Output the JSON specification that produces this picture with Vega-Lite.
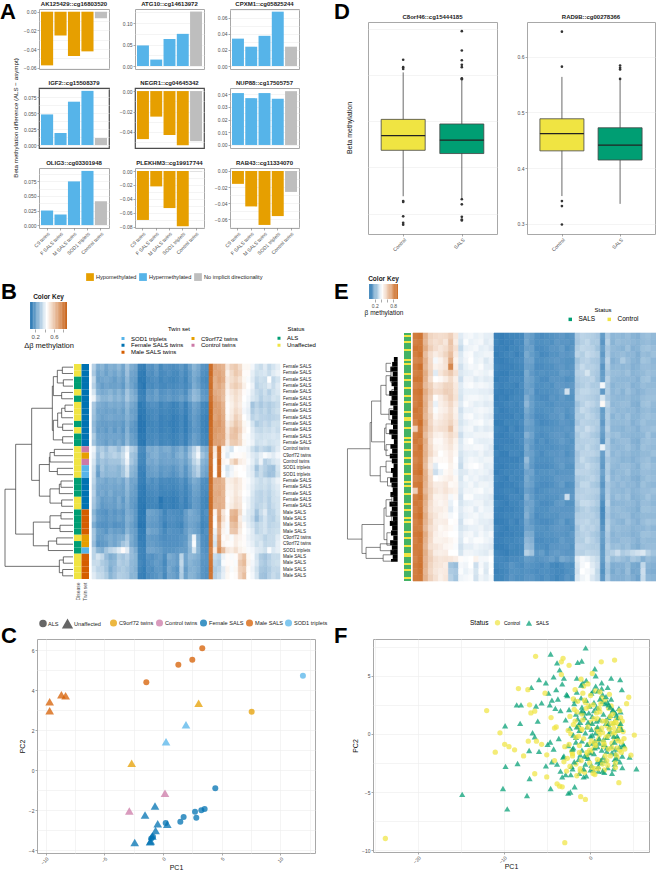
{"$schema":"https://vega.github.io/schema/vega-lite/v6.json","padding":0,"background":"white","data":{"values":[]},"bounds":"flush","spacing":0,"resolve":{"scale":{"color":"independent","shape":"independent","size":"independent","stroke":"independent"}},
"config":{"font":"Liberation Sans","view":{"stroke":null},"title":{"fontSize":6,"fontWeight":"bold","offset":2,"color":"#222"},"axis":{"labelFontSize":5,"labelColor":"#4d4d4d","titleFontSize":7,"titleFontWeight":"normal","titleColor":"#111","tickSize":2,"tickColor":"#555","tickWidth":0.5,"domain":false,"gridColor":"#ececec","gridWidth":0.6,"labelPadding":1},"legend":{"titleFontWeight":"normal"}},
"datasets":{"a":[
{"p":"AK","g":"C9 twins","v":-0.0575,"d":"Hypomethylated"},{"p":"AK","g":"F SALS twins","v":-0.0255,"d":"Hypomethylated"},{"p":"AK","g":"M SALS twins","v":-0.0475,"d":"Hypomethylated"},{"p":"AK","g":"SOD1 triplets","v":-0.0425,"d":"Hypomethylated"},{"p":"AK","g":"Control twins","v":-0.007,"d":"No implicit directionality"},
{"p":"ATG","g":"C9 twins","v":0.048,"d":"Hypermethylated"},{"p":"ATG","g":"F SALS twins","v":0.015,"d":"Hypermethylated"},{"p":"ATG","g":"M SALS twins","v":0.063,"d":"Hypermethylated"},{"p":"ATG","g":"SOD1 triplets","v":0.075,"d":"Hypermethylated"},{"p":"ATG","g":"Control twins","v":0.127,"d":"No implicit directionality"},
{"p":"CPX","g":"C9 twins","v":0.034,"d":"Hypermethylated"},{"p":"CPX","g":"F SALS twins","v":0.024,"d":"Hypermethylated"},{"p":"CPX","g":"M SALS twins","v":0.0375,"d":"Hypermethylated"},{"p":"CPX","g":"SOD1 triplets","v":0.0675,"d":"Hypermethylated"},{"p":"CPX","g":"Control twins","v":0.024,"d":"No implicit directionality"},
{"p":"IGF","g":"C9 twins","v":0.048,"d":"Hypermethylated"},{"p":"IGF","g":"F SALS twins","v":0.019,"d":"Hypermethylated"},{"p":"IGF","g":"M SALS twins","v":0.068,"d":"Hypermethylated"},{"p":"IGF","g":"SOD1 triplets","v":0.085,"d":"Hypermethylated"},{"p":"IGF","g":"Control twins","v":0.011,"d":"No implicit directionality"},
{"p":"NEG","g":"C9 twins","v":-0.047,"d":"Hypomethylated"},{"p":"NEG","g":"F SALS twins","v":-0.025,"d":"Hypomethylated"},{"p":"NEG","g":"M SALS twins","v":-0.043,"d":"Hypomethylated"},{"p":"NEG","g":"SOD1 triplets","v":-0.053,"d":"Hypomethylated"},{"p":"NEG","g":"Control twins","v":-0.049,"d":"No implicit directionality"},
{"p":"NUP","g":"C9 twins","v":0.041,"d":"Hypermethylated"},{"p":"NUP","g":"F SALS twins","v":0.037,"d":"Hypermethylated"},{"p":"NUP","g":"M SALS twins","v":0.041,"d":"Hypermethylated"},{"p":"NUP","g":"SOD1 triplets","v":0.0365,"d":"Hypermethylated"},{"p":"NUP","g":"Control twins","v":0.0425,"d":"No implicit directionality"},
{"p":"OLI","g":"C9 twins","v":0.025,"d":"Hypermethylated"},{"p":"OLI","g":"F SALS twins","v":0.018,"d":"Hypermethylated"},{"p":"OLI","g":"M SALS twins","v":0.075,"d":"Hypermethylated"},{"p":"OLI","g":"SOD1 triplets","v":0.093,"d":"Hypermethylated"},{"p":"OLI","g":"Control twins","v":0.041,"d":"No implicit directionality"},
{"p":"PLE","g":"C9 twins","v":-0.07,"d":"Hypomethylated"},{"p":"PLE","g":"F SALS twins","v":-0.022,"d":"Hypomethylated"},{"p":"PLE","g":"M SALS twins","v":-0.053,"d":"Hypomethylated"},{"p":"PLE","g":"SOD1 triplets","v":-0.079,"d":"Hypomethylated"},{"p":"PLE","g":"Control twins","v":-0.0005,"d":"No implicit directionality"},
{"p":"RAB","g":"C9 twins","v":-0.016,"d":"Hypomethylated"},{"p":"RAB","g":"F SALS twins","v":-0.044,"d":"Hypomethylated"},{"p":"RAB","g":"M SALS twins","v":-0.067,"d":"Hypomethylated"},{"p":"RAB","g":"SOD1 triplets","v":-0.056,"d":"Hypomethylated"},{"p":"RAB","g":"Control twins","v":-0.026,"d":"No implicit directionality"}],
"b":[
{"r":0,"l":"Female SALS","d":"Unaffected","t":"Female SALS twins","v":[33,24,26,22,25,24,27,22,30,24,22,13,12,18,17,20,15,18,17,16,17,19,16,21,26,23,18,17,85,70,68,66,52,58,60,55,47,47,43,38,36,40,35,38,41]},
{"r":1,"l":"Female SALS","d":"Unaffected","t":"Female SALS twins","v":[31,22,24,21,24,22,25,21,29,22,21,12,11,17,16,19,15,16,17,15,15,18,15,19,24,22,17,16,86,69,70,67,49,55,60,57,46,46,41,37,38,39,36,40,42]},
{"r":2,"l":"Female SALS","d":"ALS","t":"Female SALS twins","v":[35,21,22,23,22,20,23,20,27,21,20,11,11,15,16,17,14,16,15,14,15,17,14,19,23,20,16,15,84,67,71,68,51,54,57,53,47,44,40,35,37,36,45,35,38]},
{"r":3,"l":"Female SALS","d":"ALS","t":"Female SALS twins","v":[33,23,20,22,21,21,22,19,26,22,19,12,10,16,15,17,15,15,16,15,16,17,15,18,24,21,17,16,85,66,69,65,50,56,59,56,49,45,42,34,36,37,40,36,40]},
{"r":4,"l":"Female SALS","d":"Unaffected","t":"Female SALS twins","v":[38,25,23,24,26,23,26,22,30,25,22,13,12,19,18,21,17,18,19,17,18,19,16,22,27,25,19,18,83,68,67,64,48,52,55,52,46,44,40,36,34,37,33,37,39]},
{"r":5,"l":"Female SALS","d":"ALS","t":"Female SALS twins","v":[42,30,26,26,28,25,27,24,31,26,24,14,13,20,19,21,18,19,20,18,19,21,18,23,28,26,20,19,84,70,68,63,47,50,54,51,45,43,39,37,33,36,35,38,37]},
{"r":6,"l":"Female SALS","d":"Unaffected","t":"Female SALS twins","v":[31,24,23,22,24,23,24,22,27,23,21,11,12,16,17,17,14,16,15,13,14,17,13,18,22,20,15,14,86,72,71,66,46,49,53,50,44,42,30,34,31,34,32,34,36]},
{"r":7,"l":"Female SALS","d":"Unaffected","t":"Female SALS twins","v":[30,22,22,21,22,21,23,20,26,21,20,11,11,15,15,16,14,15,14,13,14,16,13,17,21,19,15,14,87,71,72,67,46,50,55,52,43,41,32,35,33,35,32,35,37]},
{"r":8,"l":"Female SALS","d":"Unaffected","t":"Female SALS twins","v":[29,23,21,22,23,22,22,21,25,22,20,10,11,14,15,16,13,14,14,12,13,15,12,17,20,18,14,13,87,70,73,68,47,51,58,54,45,42,34,36,34,34,33,34,35]},
{"r":9,"l":"Female SALS","d":"ALS","t":"Female SALS twins","v":[27,21,20,20,21,20,21,19,24,20,18,10,10,14,14,15,13,14,13,12,13,15,12,16,20,18,14,13,86,72,74,69,50,54,60,56,47,44,38,32,34,36,34,37,37]},
{"r":10,"l":"Female SALS","d":"Unaffected","t":"Female SALS twins","v":[28,20,21,19,22,19,22,18,25,19,18,10,10,15,14,15,13,14,14,12,13,15,12,16,19,18,14,13,85,73,72,70,52,60,63,58,48,45,40,36,35,37,36,38,36]},
{"r":11,"l":"Female SALS","d":"ALS","t":"Female SALS twins","v":[32,22,22,21,22,22,22,20,26,21,19,11,11,15,15,16,14,15,14,13,14,16,13,17,21,19,15,14,85,72,70,70,53,61,62,55,46,44,41,38,37,38,38,39,38]},
{"r":12,"l":"Female SALS","d":"ALS","t":"Female SALS twins","v":[30,23,22,20,23,21,24,20,27,21,20,11,10,16,15,17,14,15,15,13,14,16,13,18,21,19,15,14,86,71,71,68,51,59,60,56,47,44,42,37,38,39,37,38,39]},
{"r":13,"l":"Control twins","d":"Unaffected","t":"Control twins","v":[42,30,32,28,33,32,28,34,41,33,30,16,15,24,23,25,22,24,24,20,22,25,20,27,34,40,26,24,83,52,84,47,42,38,45,44,44,42,37,33,36,34,32,36,40]},
{"r":14,"l":"C9orf72 twins","d":"Unaffected","t":"C9orf72 twins","v":[40,28,34,30,32,34,32,36,44,30,28,15,14,22,24,25,22,22,23,20,24,26,22,29,36,43,30,26,85,50,83,46,40,44,46,46,47,43,40,38,41,44,42,40,43]},
{"r":15,"l":"Control twins","d":"Unaffected","t":"Control twins","v":[38,27,30,28,30,30,30,34,42,31,27,15,14,23,22,24,21,22,22,21,22,24,21,26,34,38,26,24,84,44,86,48,46,54,60,50,48,44,41,36,42,33,35,38,40]},
{"r":16,"l":"SOD1 triplets","d":"Unaffected","t":"SOD1 triplets","v":[36,22,30,26,28,28,26,30,38,27,25,13,13,20,21,22,19,20,20,18,20,23,18,24,30,34,24,22,86,46,84,44,38,42,46,45,46,42,39,30,36,33,30,29,38]},
{"r":17,"l":"SOD1 triplets","d":"Unaffected","t":"SOD1 triplets","v":[35,20,28,26,27,27,26,30,37,26,24,13,12,20,20,21,18,20,19,17,19,22,18,23,29,33,23,21,86,45,85,45,40,43,47,45,45,42,40,33,36,32,29,30,37]},
{"r":18,"l":"Female SALS","d":"ALS","t":"Female SALS twins","v":[34,24,24,22,24,23,25,22,28,22,22,13,12,18,16,18,15,16,15,15,16,18,15,20,24,22,17,16,85,68,68,65,49,50,53,50,46,44,41,38,36,38,36,39,42]},
{"r":19,"l":"Female SALS","d":"ALS","t":"Female SALS twins","v":[32,23,22,22,23,22,23,21,27,22,20,12,11,16,16,17,14,15,15,14,15,17,14,18,22,21,16,16,84,67,68,66,48,49,52,50,46,43,40,37,36,37,35,38,40]},
{"r":20,"l":"Female SALS","d":"ALS","t":"Female SALS twins","v":[33,22,23,21,24,21,22,21,26,21,20,12,11,15,15,16,14,14,14,13,14,16,14,17,21,20,16,15,84,68,69,65,47,48,52,49,45,44,39,35,34,36,34,37,39]},
{"r":21,"l":"Female SALS","d":"Unaffected","t":"Female SALS twins","v":[31,24,20,21,22,20,24,19,25,20,19,11,11,14,14,15,10,13,13,12,13,16,13,17,20,19,15,14,85,68,67,66,46,49,53,51,44,42,38,35,34,36,33,37,38]},
{"r":22,"l":"Female SALS","d":"Unaffected","t":"Female SALS twins","v":[30,23,19,20,21,20,23,20,24,20,18,11,10,14,14,14,11,13,13,12,13,15,13,16,20,19,15,14,85,67,68,66,47,50,54,52,45,42,38,34,35,37,33,36,38]},
{"r":23,"l":"Male SALS","d":"ALS","t":"Male SALS twins","v":[26,19,18,17,20,18,20,18,24,22,19,11,10,22,21,20,18,14,17,16,16,15,20,24,22,20,15,17,85,48,70,52,45,64,66,55,44,40,38,30,36,40,33,34,38]},
{"r":24,"l":"Male SALS","d":"ALS","t":"Male SALS twins","v":[28,20,19,18,20,19,21,19,25,23,19,11,11,21,20,20,17,15,17,17,16,16,20,23,22,21,15,16,84,44,72,54,46,66,68,50,42,40,36,28,34,38,34,33,37]},
{"r":25,"l":"Male SALS","d":"ALS","t":"Male SALS twins","v":[24,18,17,17,19,17,18,18,24,21,18,10,10,20,19,19,17,13,16,16,15,14,19,22,21,19,14,15,84,45,68,50,44,62,64,52,46,41,38,34,36,38,34,35,36]},
{"r":26,"l":"Male SALS","d":"ALS","t":"Male SALS twins","v":[30,21,20,18,22,20,21,19,26,22,20,12,11,23,21,21,18,15,18,17,17,16,20,24,22,20,15,17,83,42,66,48,44,60,61,50,45,43,40,34,36,38,35,36,37]},
{"r":27,"l":"C9orf72 twins","d":"Unaffected","t":"C9orf72 twins","v":[30,20,20,22,24,22,24,24,31,24,20,12,12,20,19,19,17,16,17,17,17,18,19,26,42,24,17,16,82,40,70,46,48,44,50,48,46,42,40,38,37,34,36,36,40]},
{"r":28,"l":"C9orf72 twins","d":"ALS","t":"C9orf72 twins","v":[28,18,19,20,24,22,25,30,33,23,20,13,12,20,20,19,18,17,17,17,17,18,20,27,44,25,17,16,83,38,72,48,46,46,50,47,46,43,41,37,39,35,36,36,41]},
{"r":29,"l":"SOD1 triplets","d":"ALS","t":"SOD1 triplets","v":[34,26,24,30,34,36,40,46,40,28,24,14,13,22,22,21,20,18,18,18,19,20,20,26,38,26,18,17,80,50,76,64,52,50,54,49,47,44,43,40,39,37,44,39,41]},
{"r":30,"l":"Male SALS","d":"Unaffected","t":"Male SALS twins","v":[34,38,35,28,24,26,32,30,33,28,26,14,13,18,17,19,20,16,24,22,20,34,22,27,26,24,19,18,82,36,34,42,46,44,46,56,62,47,44,38,32,30,33,36,36]},
{"r":31,"l":"Male SALS","d":"Unaffected","t":"Male SALS twins","v":[36,36,32,30,26,27,33,31,32,27,26,15,13,17,18,20,19,15,22,22,20,35,22,26,24,23,18,18,83,34,32,44,46,46,44,60,64,48,43,39,33,31,34,36,37]},
{"r":32,"l":"Male SALS","d":"Unaffected","t":"Male SALS twins","v":[38,34,34,30,24,28,31,32,30,27,25,14,12,17,16,19,19,16,23,20,18,33,20,25,25,23,18,17,84,32,34,40,48,44,47,58,60,46,42,37,31,30,32,35,35]},
{"r":33,"l":"Male SALS","d":"Unaffected","t":"Male SALS twins","v":[40,36,35,32,26,29,33,32,31,26,26,13,12,16,17,18,20,15,22,21,19,32,21,26,25,22,18,17,83,33,36,41,47,45,46,57,63,45,43,38,30,29,33,36,34]}],
"c":[{"x":3.35,"y":6.1,"s":"ALS","t":"Male SALS"},{"x":2.5,"y":5.52,"s":"ALS","t":"Male SALS"},{"x":1.31,"y":5.27,"s":"ALS","t":"Male SALS"},{"x":-1.42,"y":4.4,"s":"ALS","t":"Male SALS"},{"x":11.93,"y":4.73,"s":"ALS","t":"SOD1 triplets"},{"x":7.56,"y":2.92,"s":"ALS","t":"C9orf72 twins"},{"x":-8.66,"y":3.77,"s":"Unaffected","t":"Male SALS"},{"x":-8.3,"y":3.73,"s":"Unaffected","t":"Male SALS"},{"x":-9.66,"y":3.42,"s":"Unaffected","t":"Male SALS"},{"x":-9.66,"y":2.98,"s":"Unaffected","t":"Male SALS"},{"x":3.04,"y":3.35,"s":"Unaffected","t":"C9orf72 twins"},{"x":-2.67,"y":0.35,"s":"Unaffected","t":"C9orf72 twins"},{"x":1.96,"y":2.28,"s":"Unaffected","t":"SOD1 triplets"},{"x":0.26,"y":1.43,"s":"Unaffected","t":"SOD1 triplets"},{"x":0.17,"y":-1.15,"s":"Unaffected","t":"Control twins"},{"x":-2.87,"y":-2.03,"s":"Unaffected","t":"Control twins"},{"x":-0.68,"y":-1.78,"s":"Unaffected","t":"Female SALS"},{"x":-1.53,"y":-2.23,"s":"Unaffected","t":"Female SALS"},{"x":-0.45,"y":-2.67,"s":"Unaffected","t":"Female SALS"},{"x":0.37,"y":-2.7,"s":"Unaffected","t":"Female SALS"},{"x":-0.63,"y":-3.0,"s":"Unaffected","t":"Female SALS"},{"x":-2.41,"y":-3.6,"s":"Unaffected","t":"Female SALS"},{"x":-0.91,"y":-3.28,"s":"Unaffected","t":"Female SALS"},{"x":-1.05,"y":-3.53,"s":"Unaffected","t":"Female SALS"},{"x":-1.1,"y":-3.57,"s":"Unaffected","t":"Female SALS"},{"x":4.46,"y":-0.9,"s":"ALS","t":"Female SALS"},{"x":3.55,"y":-1.93,"s":"ALS","t":"Female SALS"},{"x":3.27,"y":-2.0,"s":"ALS","t":"Female SALS"},{"x":2.73,"y":-2.07,"s":"ALS","t":"Female SALS"},{"x":2.84,"y":-2.37,"s":"ALS","t":"Female SALS"},{"x":1.76,"y":-2.33,"s":"ALS","t":"Female SALS"},{"x":1.48,"y":-2.57,"s":"ALS","t":"Female SALS"},{"x":0.23,"y":-2.63,"s":"ALS","t":"Female SALS"},{"x":-0.85,"y":-3.32,"s":"ALS","t":"Female SALS"},{"x":-1.0,"y":-3.4,"s":"ALS","t":"Female SALS"}],
"dendB":[{"m":1,"x":[219,187,187,219],"y":[0,0,1,1]},{"m":2,"x":[219,190,190,219],"y":[2,2,3,3]},{"m":3,"x":[187,172,172,190],"y":[0.5,0.5,2.5,2.5]},{"m":4,"x":[219,185,185,219],"y":[4,4,5,5]},{"m":5,"x":[172,160,160,185],"y":[1.5,1.5,4.5,4.5]},{"m":6,"x":[219,195,195,219],"y":[6,6,7,7]},{"m":7,"x":[195,185,185,219],"y":[6.5,6.5,8,8]},{"m":8,"x":[219,188,188,219],"y":[9,9,10,10]},{"m":9,"x":[185,173,173,188],"y":[7.25,7.25,9.5,9.5]},{"m":10,"x":[219,188,188,219],"y":[11,11,12,12]},{"m":11,"x":[173,160,160,188],"y":[8.4,8.4,11.5,11.5]},{"m":12,"x":[160,157,157,160],"y":[3,3,10,10]},{"m":13,"x":[219,163,163,219],"y":[13,13,14,14]},{"m":14,"x":[163,150,150,219],"y":[13.5,13.5,15,15]},{"m":15,"x":[219,172,172,219],"y":[16,16,17,17]},{"m":16,"x":[150,148,148,172],"y":[14.25,14.25,16.5,16.5]},{"m":17,"x":[219,183,183,219],"y":[18,18,19,19]},{"m":18,"x":[183,178,178,219],"y":[18.5,18.5,20,20]},{"m":19,"x":[219,185,185,219],"y":[21,21,22,22]},{"m":20,"x":[178,150,150,185],"y":[19.25,19.25,21.5,21.5]},{"m":21,"x":[148,118,118,150],"y":[15.4,15.4,20.4,20.4]},{"m":22,"x":[157,95,95,118],"y":[6.5,6.5,17.9,17.9]},{"m":23,"x":[219,183,183,219],"y":[23,23,24,24]},{"m":24,"x":[219,180,180,219],"y":[25,25,26,26]},{"m":25,"x":[183,150,150,180],"y":[23.5,23.5,25.5,25.5]},{"m":26,"x":[219,170,170,219],"y":[27,27,28,28]},{"m":27,"x":[170,145,145,219],"y":[27.5,27.5,29,29]},{"m":28,"x":[150,100,100,145],"y":[24.5,24.5,28.25,28.25]},{"m":29,"x":[95,47,47,100],"y":[12.2,12.2,26.4,26.4]},{"m":30,"x":[219,190,190,219],"y":[30,30,31,31]},{"m":31,"x":[219,188,188,219],"y":[32,32,33,33]},{"m":32,"x":[190,178,178,188],"y":[30.5,30.5,32.5,32.5]},{"m":33,"x":[47,15,15,178],"y":[19.3,19.3,31.5,31.5]}],
"dendE":[{"m":1,"x":[150,72,72,122],"y":[520,520,848,848]},{"m":2,"x":[155,150,150,185],"y":[425,425,618,618]},{"m":3,"x":[187,155,155,200],"y":[347,347,495,495]},{"m":4,"x":[205,187,187,215],"y":[290,290,395,395]},{"m":5,"x":[205,200,200,212],"y":[445,445,525,525]},{"m":6,"x":[205,185,185,210],"y":[585,585,640,640]},{"m":7,"x":[198,122,122,136],"y":[795,795,900,900]},{"m":8,"x":[185,136,136,195],"y":[878,878,918,918]},{"m":9,"x":[205,198,198,208],"y":[735,735,850,850]},{"m":10,"x":[222,205,205,225],"y":[255,255,325,325]},{"m":11,"x":[232,222,222,232],"y":[225,225,280,280]},{"m":12,"x":[232,225,225,235],"y":[305,305,345,345]},{"m":13,"x":[228,215,215,230],"y":[375,375,415,415]},{"m":14,"x":[232,205,205,230],"y":[430,430,465,465]},{"m":15,"x":[232,205,205,230],"y":[505,505,545,545]},{"m":16,"x":[226,205,205,230],"y":[565,565,605,605]},{"m":17,"x":[226,210,210,232],"y":[625,625,655,655]},{"m":18,"x":[225,205,205,232],"y":[705,705,765,765]},{"m":19,"x":[225,208,208,230],"y":[825,825,870,870]},{"m":20,"x":[230,185,185,232],"y":[865,865,890,890]},{"m":21,"x":[228,195,195,232],"y":[905,905,928,928]},{"m":22,"x":[232,225,225,236],"y":[690,690,720,720]},{"m":23,"x":[232,225,225,236],"y":[745,745,785,785]},{"m":24,"x":[222,205,205,228],"y":[210,210,240,240]}],
"e":[
{"r":1,"v":[88,90,70,58,56,55,56,60,52,38,41,42,40,41,39,39,6,5,6,7,7,8,16,14,10,9,10,11,12,13,11,12,28,31,30,29,27,14,28,22,23,22,24,21,20,24,25,23]},
{"r":2,"v":[86,88,68,57,54,56,52,64,50,36,43,40,41,42,38,40,7,5,6,6,8,8,17,13,10,10,11,10,13,12,12,11,27,30,32,28,28,12,30,21,24,23,23,22,21,23,24,22]},
{"r":3,"v":[90,89,72,60,55,52,55,62,54,33,40,41,42,39,40,38,6,6,5,7,7,9,15,15,9,9,10,12,12,14,10,12,29,32,31,30,26,15,27,23,22,21,25,20,21,25,26,24]},
{"r":4,"v":[87,91,66,55,50,53,58,66,51,37,42,43,39,40,41,41,5,6,7,8,6,8,18,14,11,8,9,11,11,13,12,13,31,29,33,31,29,13,28,22,23,24,22,22,19,24,23,25]},
{"r":5,"v":[84,86,70,56,42,48,54,72,48,38,41,44,40,41,37,40,6,5,6,7,8,9,16,16,10,10,11,12,13,12,11,11,26,30,31,28,27,16,31,20,22,28,24,21,20,26,25,22]},
{"r":6,"v":[88,92,68,57,48,50,53,84,50,35,40,42,41,43,39,39,7,6,6,6,7,8,15,14,9,9,10,10,12,13,11,12,28,33,30,30,28,12,29,22,23,22,23,20,21,24,24,23]},
{"r":7,"v":[86,88,72,58,38,52,57,62,54,37,39,40,42,41,40,42,6,5,5,7,7,7,18,13,10,11,10,11,11,14,13,12,30,31,36,29,27,14,27,24,24,23,25,21,22,23,25,24]},
{"r":8,"v":[90,90,70,55,44,46,50,56,49,34,41,41,38,40,38,39,5,6,6,8,8,8,17,15,11,9,9,12,12,12,10,11,28,30,30,31,26,15,30,23,22,22,22,22,20,25,26,22]},
{"r":9,"v":[85,87,67,60,52,54,58,58,51,38,42,43,41,42,41,40,7,6,7,7,6,9,16,14,10,10,11,10,13,13,12,13,27,29,31,28,28,42,28,21,23,23,24,20,21,24,23,23]},
{"r":10,"v":[89,91,72,62,55,56,60,59,52,37,40,40,40,39,39,38,6,5,6,6,7,8,15,16,9,10,10,11,12,14,35,12,29,32,32,30,29,13,29,22,24,21,25,22,20,22,24,24]},
{"r":11,"v":[87,89,69,59,45,50,55,60,53,36,41,42,42,41,40,41,5,6,5,7,8,8,19,14,10,9,9,12,11,13,11,11,30,31,30,29,27,36,27,23,22,22,23,21,21,24,25,25]},
{"r":12,"v":[86,90,71,56,40,49,52,57,50,38,43,41,39,40,38,39,6,6,7,8,7,9,22,15,11,11,10,10,12,12,12,12,26,30,33,31,28,46,31,22,23,24,24,20,19,25,26,23]},
{"r":13,"v":[90,88,70,55,43,48,50,55,48,35,40,40,41,42,41,40,7,5,6,7,7,8,18,14,10,10,11,11,13,13,11,13,28,33,31,28,26,14,28,24,22,23,22,22,20,23,24,22]},
{"r":14,"v":[88,89,68,58,47,50,53,56,49,37,42,43,40,41,39,38,6,6,6,6,8,7,16,13,9,9,10,12,12,14,10,12,29,29,32,30,27,15,29,21,24,22,25,21,21,24,25,24]},
{"r":15,"v":[85,92,72,57,50,52,54,58,51,36,39,41,42,43,40,41,5,5,7,7,7,9,17,15,10,8,9,10,11,13,12,11,27,31,30,29,29,13,28,23,23,23,24,20,22,25,23,23]},
{"r":16,"v":[60,88,70,59,52,54,55,64,50,38,41,42,38,40,38,39,7,6,5,8,6,8,15,14,11,10,11,11,12,12,13,12,31,30,34,31,28,16,30,22,22,21,23,22,20,24,24,25]},
{"r":17,"v":[87,90,66,56,49,48,52,56,52,34,40,40,41,41,41,42,6,5,6,7,8,8,20,16,10,9,10,12,13,13,11,13,28,32,31,28,26,14,27,24,25,22,22,21,21,22,26,22]},
{"r":18,"v":[89,87,71,54,46,46,50,54,48,37,42,44,40,39,39,40,6,6,6,6,7,9,16,14,9,11,9,11,12,14,12,11,29,30,30,30,28,12,29,21,23,24,24,20,19,24,25,24]},
{"r":19,"v":[86,91,69,56,48,47,49,52,47,38,41,41,42,42,40,38,5,6,7,7,7,8,18,13,10,10,10,10,11,12,11,12,30,29,32,29,27,40,28,23,22,23,25,22,20,25,24,23]},
{"r":20,"v":[88,89,70,57,50,44,47,50,46,36,39,40,39,41,38,39,7,5,5,8,8,7,17,15,11,9,11,12,12,13,10,12,27,31,31,31,29,15,30,22,24,22,23,21,21,23,23,25]},
{"r":21,"v":[84,88,68,52,46,46,46,50,44,35,40,42,41,40,41,41,6,6,6,6,6,8,24,14,10,10,10,11,13,13,12,13,28,33,30,28,26,14,27,24,23,21,22,20,22,24,25,22]},
{"r":22,"v":[87,90,66,50,38,44,44,48,45,33,41,43,44,42,39,40,6,5,6,7,7,9,20,13,9,9,9,10,12,14,11,11,29,30,33,30,28,13,29,23,22,24,24,22,20,25,26,24]},
{"r":23,"v":[89,92,70,53,34,40,46,48,42,37,38,41,40,41,40,38,5,6,7,7,8,8,16,16,10,11,11,12,11,12,12,12,31,31,31,29,27,16,28,21,23,23,25,21,21,24,24,23]},
{"r":24,"v":[85,87,71,55,44,46,48,50,46,36,42,40,41,39,38,39,7,6,5,8,7,8,18,14,11,10,10,11,13,13,13,13,28,29,30,31,28,14,30,22,24,22,23,20,19,23,25,24]},
{"r":25,"v":[88,90,69,56,50,50,52,46,47,38,40,42,39,41,41,40,6,5,6,6,7,9,17,15,10,9,9,10,12,14,10,11,27,32,32,28,26,12,27,24,22,24,22,22,20,25,23,22]},
{"r":26,"v":[60,89,67,58,52,50,53,50,48,37,41,41,42,43,40,41,6,6,7,7,6,8,15,13,9,10,11,12,12,12,12,12,29,30,31,30,29,15,28,23,23,22,24,21,22,24,24,25]},
{"r":27,"v":[87,91,72,57,48,48,50,42,46,35,43,43,40,40,39,38,5,5,6,8,8,7,19,14,10,11,10,11,11,13,34,13,30,31,30,29,27,13,29,22,25,23,25,20,21,23,26,23]},
{"r":28,"v":[89,88,70,55,49,47,49,40,44,36,39,40,41,41,38,39,7,6,5,7,7,9,16,16,11,9,9,10,13,14,11,11,28,33,33,31,28,10,31,21,22,22,23,22,20,24,24,22]},
{"r":29,"v":[86,90,68,54,50,50,48,38,43,38,41,42,38,42,40,40,6,5,6,6,7,8,18,15,10,10,10,12,12,12,12,12,26,29,31,28,26,8,28,23,24,23,22,21,19,25,25,24]},
{"r":30,"v":[88,92,71,56,52,48,47,42,44,37,40,41,42,40,41,41,6,6,7,7,8,8,20,14,9,10,11,11,11,13,13,13,29,30,30,30,27,9,27,22,23,24,24,20,21,23,23,23]},
{"r":31,"v":[85,89,69,58,50,49,50,44,45,35,42,43,41,39,39,38,5,5,6,8,6,9,17,13,10,9,9,10,12,14,10,12,30,31,32,29,29,10,29,24,22,21,25,22,20,24,26,25]},
{"r":32,"v":[87,87,67,55,51,46,48,46,43,36,38,40,40,41,38,39,7,6,5,7,7,8,16,15,11,11,10,12,13,13,12,11,27,32,30,31,28,12,30,23,24,23,23,21,22,22,24,22]},
{"r":33,"v":[89,91,72,57,49,47,46,44,44,38,41,42,39,42,40,42,6,5,6,6,7,7,19,18,10,10,11,11,12,12,11,13,28,30,31,28,26,15,28,21,23,22,22,20,21,25,25,24]},
{"r":34,"v":[86,90,70,56,48,48,49,47,45,37,43,41,43,43,41,40,6,6,7,7,8,9,22,20,9,9,10,10,11,14,12,12,29,29,33,30,27,14,27,22,22,24,24,22,20,24,23,23]},
{"r":35,"v":[88,88,68,54,52,50,47,46,43,35,39,39,41,40,39,38,5,5,6,8,7,8,24,22,10,10,9,12,12,13,13,11,31,31,30,29,29,13,29,24,25,23,25,21,19,23,24,24]},
{"r":36,"v":[87,89,71,58,50,49,50,44,44,36,41,41,40,39,38,41,7,6,5,7,7,8,30,26,12,14,10,13,14,13,12,12,30,30,32,31,30,14,28,30,34,28,30,33,35,37,30,26]},
{"r":37,"v":[85,90,69,60,54,52,53,52,50,45,43,44,48,42,42,44,8,8,7,9,9,10,14,13,11,12,13,15,12,18,16,14,38,42,40,36,33,14,30,24,26,24,22,27,25,20,24,22]},
{"r":38,"v":[88,91,70,58,53,52,50,26,24,42,41,44,34,42,38,43,7,8,9,12,10,9,12,11,10,9,11,8,7,9,11,10,36,42,44,38,34,12,27,19,20,20,23,18,17,32,21,20]},
{"r":39,"v":[87,90,68,57,52,50,51,28,27,43,40,42,36,43,37,44,6,7,8,11,11,10,11,10,9,10,10,9,8,8,10,11,35,44,42,40,32,11,26,18,21,19,24,17,18,34,20,19]},
{"r":40,"v":[88,89,70,59,54,49,52,30,26,41,42,43,35,41,39,42,7,7,9,12,10,10,12,12,10,9,11,9,7,9,12,10,37,41,43,37,33,13,28,20,20,20,22,19,16,33,22,21]}]},
"vconcat":[
{"width":1,"height":1,"mark":"point","title":{"text":"A","anchor":"start","frame":"group","fontSize":22,"color":"#000","offset":0,"dy":22.6}},
{"width":1,"height":1,"mark":"point","title":{"text":"B","anchor":"start","frame":"group","fontSize":22,"color":"#000","offset":0,"dx":1,"dy":301.6}},
{"width":1,"height":1,"mark":"point","title":{"text":"C","anchor":"start","frame":"group","fontSize":22,"color":"#000","offset":0,"dx":1,"dy":644.6}},
{"width":1,"height":1,"mark":"point","title":{"text":"D","anchor":"start","frame":"group","fontSize":22,"color":"#000","offset":0,"dx":334,"dy":19.6}},
{"width":1,"height":1,"mark":"point","title":{"text":"E","anchor":"start","frame":"group","fontSize":22,"color":"#000","offset":0,"dx":334,"dy":298.6}},
{"width":1,"height":1,"mark":"point","title":{"text":"F","anchor":"start","frame":"group","fontSize":22,"color":"#000","offset":0,"dx":334,"dy":641.6}},
{"width":1,"height":2,"mark":"point"},
{"bounds":"flush","spacing":0,"resolve":{"scale":{"color":"independent","shape":"independent","size":"independent","stroke":"independent"}},"hconcat":[{"width":39,"height":1,"mark":"point"},
{"title":"AK125429::cg16803520","width":70,"height":60,"view":{"stroke":"#a8a8a8"},"data":{"name":"a"},"transform":[{"filter":"datum.p=='AK'"}],"mark":"bar","encoding":{"x":{"field":"g","type":"nominal","sort":null,"title":null,"scale":{"paddingInner":0.1,"paddingOuter":0.15},"axis":{"labels":false,"ticks":false}},"y":{"field":"v","type":"quantitative","title":null,"scale":{"domain":[-0.0614,0.0029],"nice":false},"axis":{"values":[-0.06,-0.05,-0.04,-0.03,-0.02,-0.01,0],"format":".2f","labelExpr":"round(abs(datum.value)*100)%2==0?datum.label:''","tickOpacity":{"condition":{"test":"round(abs(datum.value)*100)%2==0","value":1},"value":0}}},"color":{"field":"d","type":"nominal","scale":{"domain":["Hypomethylated","Hypermethylated","No implicit directionality"],"range":["#E69F00","#56B4E9","#BEBEBE"]},"legend":null}}},
{"width":26,"height":1,"mark":"point"},
{"title":"ATG10::cg14613972","width":69,"height":60,"view":{"stroke":"#a8a8a8"},"data":{"name":"a"},"transform":[{"filter":"datum.p=='ATG'"}],"mark":"bar","encoding":{"x":{"field":"g","type":"nominal","sort":null,"title":null,"scale":{"paddingInner":0.1,"paddingOuter":0.15},"axis":{"labels":false,"ticks":false}},"y":{"field":"v","type":"quantitative","title":null,"scale":{"domain":[-0.007,0.133],"nice":false},"axis":{"values":[0,0.025,0.05,0.075,0.1,0.125],"format":".2f","labelExpr":"round(datum.value*1000)%50==0?datum.label:''","tickOpacity":{"condition":{"test":"round(datum.value*1000)%50==0","value":1},"value":0}}},"color":{"field":"d","type":"nominal","scale":{"domain":["Hypomethylated","Hypermethylated","No implicit directionality"],"range":["#E69F00","#56B4E9","#BEBEBE"]},"legend":null}}},
{"width":26,"height":1,"mark":"point"},
{"title":"CPXM1::cg05825244","width":69,"height":60,"view":{"stroke":"#a8a8a8"},"data":{"name":"a"},"transform":[{"filter":"datum.p=='CPX'"}],"mark":"bar","encoding":{"x":{"field":"g","type":"nominal","sort":null,"title":null,"scale":{"paddingInner":0.1,"paddingOuter":0.15},"axis":{"labels":false,"ticks":false}},"y":{"field":"v","type":"quantitative","title":null,"scale":{"domain":[-0.0037,0.0708],"nice":false},"axis":{"values":[0,0.01,0.02,0.03,0.04,0.05,0.06,0.07],"format":".2f","labelExpr":"round(datum.value*100)%2==0?datum.label:''","tickOpacity":{"condition":{"test":"round(datum.value*100)%2==0","value":1},"value":0}}},"color":{"field":"d","type":"nominal","scale":{"domain":["Hypomethylated","Hypermethylated","No implicit directionality"],"range":["#E69F00","#56B4E9","#BEBEBE"]},"legend":null}}}]},
{"width":1,"height":13,"mark":"point"},
{"bounds":"flush","spacing":0,"resolve":{"scale":{"color":"independent","shape":"independent","size":"independent","stroke":"independent"}},"hconcat":[{"width":342,"height":1,"mark":"point"},
{"width":26,"height":212,"mark":"point","title":{"text":"Beta methylation","orient":"left","anchor":"middle","frame":"group","fontWeight":"normal","fontSize":7,"offset":-11,"color":"#111"}},
{"title":"C8orf46::cg15444185","width":129,"height":212,"view":{"stroke":"#a8a8a8"},"encoding":{"x":{"field":"g","type":"nominal","title":null,"scale":{"type":"point","padding":0.6},"axis":{"labelAngle":-45,"tickSize":2}}},"layer":[
{"data":{"values":[{"g":"Control","lo":0.4875,"hi":0.7557},{"g":"SALS","lo":0.48,"hi":0.739}]},"mark":{"type":"rule","color":"#444","strokeWidth":0.8},"encoding":{"y":{"field":"lo","type":"quantitative","title":null,"scale":{"domain":[0.4058,0.8648],"nice":false},"axis":{"values":[0.45,0.5,0.55,0.6,0.65,0.7,0.75,0.8,0.85],"format":".1f","labelExpr":"round(datum.value*100)%10==0?datum.label:''","tickOpacity":{"condition":{"test":"round(datum.value*100)%10==0","value":1},"value":0}}},"y2":{"field":"hi"}}},
{"data":{"values":[{"g":"Control","q1":0.587,"q3":0.654},{"g":"SALS","q1":0.58,"q3":0.644}]},"mark":{"type":"bar","size":44,"stroke":"#444","strokeWidth":0.8},"encoding":{"y":{"field":"q1","type":"quantitative"},"y2":{"field":"q3"},"color":{"field":"g","type":"nominal","scale":{"domain":["Control","SALS"],"range":["#F0E442","#009E73"]},"legend":null}}},
{"data":{"values":[{"g":"Control","m":0.619},{"g":"SALS","m":0.609}]},"mark":{"type":"tick","size":44,"thickness":1.2,"color":"#222","opacity":1},"encoding":{"y":{"field":"m","type":"quantitative"}}},
{"data":{"values":[{"g":"Control","o":[0.783,0.767,0.763,0.477,0.475,0.444,0.43,0.426]},{"g":"SALS","o":[0.845,0.803,0.782,0.772,0.767,0.743,0.741,0.481,0.47,0.443,0.437,0.435]}]},"transform":[{"flatten":["o"]}],"mark":{"type":"point","filled":true,"size":7,"color":"#333","opacity":1},"encoding":{"y":{"field":"o","type":"quantitative"}}}]},
{"width":30,"height":1,"mark":"point"},
{"title":"RAD9B::cg00278366","width":128,"height":212,"view":{"stroke":"#a8a8a8"},"encoding":{"x":{"field":"g","type":"nominal","title":null,"scale":{"type":"point","padding":0.6},"axis":{"labelAngle":-45,"tickSize":2}}},"layer":[
{"data":{"values":[{"g":"Control","lo":0.35,"hi":0.5636},{"g":"SALS","lo":0.336,"hi":0.5607}]},"mark":{"type":"rule","color":"#444","strokeWidth":0.8},"encoding":{"y":{"field":"lo","type":"quantitative","title":null,"scale":{"domain":[0.282,0.662],"nice":false},"axis":{"values":[0.3,0.35,0.4,0.45,0.5,0.55,0.6,0.65],"format":".1f","labelExpr":"round(datum.value*100)%10==0?datum.label:''","tickOpacity":{"condition":{"test":"round(datum.value*100)%10==0","value":1},"value":0}}},"y2":{"field":"hi"}}},
{"data":{"values":[{"g":"Control","q1":0.431,"q3":0.4885},{"g":"SALS","q1":0.4146,"q3":0.4724}]},"mark":{"type":"bar","size":44,"stroke":"#444","strokeWidth":0.8},"encoding":{"y":{"field":"q1","type":"quantitative"},"y2":{"field":"q3"},"color":{"field":"g","type":"nominal","scale":{"domain":["Control","SALS"],"range":["#F0E442","#009E73"]},"legend":null}}},
{"data":{"values":[{"g":"Control","m":0.462},{"g":"SALS","m":0.4414}]},"mark":{"type":"tick","size":44,"thickness":1.2,"color":"#222","opacity":1},"encoding":{"y":{"field":"m","type":"quantitative"}}},
{"data":{"values":[{"g":"Control","o":[0.6447,0.582,0.341,0.332,0.299]},{"g":"SALS","o":[0.584,0.58,0.577,0.56]}]},"transform":[{"flatten":["o"]}],"mark":{"type":"point","filled":true,"size":7,"color":"#333","opacity":1},"encoding":{"y":{"field":"o","type":"quantitative"}}}]}]},
{"width":1,"height":66,"mark":"point"},
{"bounds":"flush","spacing":0,"resolve":{"scale":{"color":"independent","shape":"independent","size":"independent","stroke":"independent"}},"hconcat":[{"width":19,"height":1,"mark":"point"},
{"width":20,"height":60,"mark":"point","title":{"text":"Beta methylation difference (ALS − asympt)","orient":"left","anchor":"middle","frame":"group","fontWeight":"normal","fontSize":6.2,"offset":0,"color":"#111"}},
{"title":"IGF2::cg15508379","width":70,"height":60,"view":{"stroke":"#4d4d4d","strokeWidth":1.2},"data":{"name":"a"},"transform":[{"filter":"datum.p=='IGF'"}],"mark":"bar","encoding":{"x":{"field":"g","type":"nominal","sort":null,"title":null,"scale":{"paddingInner":0.1,"paddingOuter":0.15},"axis":{"labels":false,"ticks":false}},"y":{"field":"v","type":"quantitative","title":null,"scale":{"domain":[-0.0047,0.0895],"nice":false},"axis":{"values":[0,0.0125,0.025,0.0375,0.05,0.0625,0.075,0.0875],"format":".3f","labelExpr":"round(datum.value*10000)%250==0?datum.label:''","tickOpacity":{"condition":{"test":"round(datum.value*10000)%250==0","value":1},"value":0}}},"color":{"field":"d","type":"nominal","scale":{"domain":["Hypomethylated","Hypermethylated","No implicit directionality"],"range":["#E69F00","#56B4E9","#BEBEBE"]},"legend":null}}},
{"width":26,"height":1,"mark":"point"},
{"title":"NEGR1::cg04645342","width":69,"height":60,"view":{"stroke":"#4d4d4d","strokeWidth":1.2},"data":{"name":"a"},"transform":[{"filter":"datum.p=='NEG'"}],"mark":"bar","encoding":{"x":{"field":"g","type":"nominal","sort":null,"title":null,"scale":{"paddingInner":0.1,"paddingOuter":0.15},"axis":{"labels":false,"ticks":false}},"y":{"field":"v","type":"quantitative","title":null,"scale":{"domain":[-0.0557,0.003],"nice":false},"axis":{"values":[-0.05,-0.04,-0.03,-0.02,-0.01,0],"format":".2f","labelExpr":"round(abs(datum.value)*100)%2==0?datum.label:''","tickOpacity":{"condition":{"test":"round(abs(datum.value)*100)%2==0","value":1},"value":0}}},"color":{"field":"d","type":"nominal","scale":{"domain":["Hypomethylated","Hypermethylated","No implicit directionality"],"range":["#E69F00","#56B4E9","#BEBEBE"]},"legend":null}}},
{"width":26,"height":1,"mark":"point"},
{"title":"NUP88::cg17505757","width":69,"height":60,"view":{"stroke":"#a8a8a8"},"data":{"name":"a"},"transform":[{"filter":"datum.p=='NUP'"}],"mark":"bar","encoding":{"x":{"field":"g","type":"nominal","sort":null,"title":null,"scale":{"paddingInner":0.1,"paddingOuter":0.15},"axis":{"labels":false,"ticks":false}},"y":{"field":"v","type":"quantitative","title":null,"scale":{"domain":[-0.0024,0.045],"nice":false},"axis":{"values":[0,0.005,0.01,0.015,0.02,0.025,0.03,0.035,0.04],"format":".2f","labelExpr":"round(datum.value*1000)%10==0?datum.label:''","tickOpacity":{"condition":{"test":"round(datum.value*1000)%10==0","value":1},"value":0}}},"color":{"field":"d","type":"nominal","scale":{"domain":["Hypomethylated","Hypermethylated","No implicit directionality"],"range":["#E69F00","#56B4E9","#BEBEBE"]},"legend":null}}}]},
{"width":1,"height":80,"mark":"point"},
{"bounds":"flush","spacing":0,"resolve":{"scale":{"color":"independent","shape":"independent","size":"independent","stroke":"independent"}},"hconcat":[{"width":39,"height":1,"mark":"point"},
{"title":"OLIG3::cg03301948","width":70,"height":60,"view":{"stroke":"#a8a8a8"},"data":{"name":"a"},"transform":[{"filter":"datum.p=='OLI'"}],"mark":"bar","encoding":{"x":{"field":"g","type":"nominal","sort":null,"title":null,"scale":{"paddingInner":0.1,"paddingOuter":0.15},"axis":{"labelAngle":-45}},"y":{"field":"v","type":"quantitative","title":null,"scale":{"domain":[-0.005,0.098],"nice":false},"axis":{"values":[0,0.0125,0.025,0.0375,0.05,0.0625,0.075,0.0875],"format":".3f","labelExpr":"round(datum.value*10000)%250==0?datum.label:''","tickOpacity":{"condition":{"test":"round(datum.value*10000)%250==0","value":1},"value":0}}},"color":{"field":"d","type":"nominal","scale":{"domain":["Hypomethylated","Hypermethylated","No implicit directionality"],"range":["#E69F00","#56B4E9","#BEBEBE"]},"legend":null}}},
{"width":26,"height":1,"mark":"point"},
{"title":"PLEKHM3::cg19917744","width":69,"height":60,"view":{"stroke":"#a8a8a8"},"data":{"name":"a"},"transform":[{"filter":"datum.p=='PLE'"}],"mark":"bar","encoding":{"x":{"field":"g","type":"nominal","sort":null,"title":null,"scale":{"paddingInner":0.1,"paddingOuter":0.15},"axis":{"labelAngle":-45}},"y":{"field":"v","type":"quantitative","title":null,"scale":{"domain":[-0.0815,0.0043],"nice":false},"axis":{"values":[-0.08,-0.07,-0.06,-0.05,-0.04,-0.03,-0.02,-0.01,0],"format":".2f","labelExpr":"round(abs(datum.value)*100)%2==0?datum.label:''","tickOpacity":{"condition":{"test":"round(abs(datum.value)*100)%2==0","value":1},"value":0}}},"color":{"field":"d","type":"nominal","scale":{"domain":["Hypomethylated","Hypermethylated","No implicit directionality"],"range":["#E69F00","#56B4E9","#BEBEBE"]},"legend":{"orient":"none","legendX":-50,"legendY":104,"direction":"horizontal","title":null,"symbolType":"square","symbolSize":60,"labelFontSize":5.6,"labelColor":"#222","columnPadding":1,"labelOffset":1}}}},
{"width":26,"height":1,"mark":"point"},
{"title":"RAB43::cg11334070","width":69,"height":60,"view":{"stroke":"#a8a8a8"},"data":{"name":"a"},"transform":[{"filter":"datum.p=='RAB'"}],"mark":"bar","encoding":{"x":{"field":"g","type":"nominal","sort":null,"title":null,"scale":{"paddingInner":0.1,"paddingOuter":0.15},"axis":{"labelAngle":-45}},"y":{"field":"v","type":"quantitative","title":null,"scale":{"domain":[-0.0708,0.0037],"nice":false},"axis":{"values":[-0.07,-0.06,-0.05,-0.04,-0.03,-0.02,-0.01,0],"format":".2f","labelExpr":"round(abs(datum.value)*100)%2==0?datum.label:''","tickOpacity":{"condition":{"test":"round(abs(datum.value)*100)%2==0","value":1},"value":0}}},"color":{"field":"d","type":"nominal","scale":{"domain":["Hypomethylated","Hypermethylated","No implicit directionality"],"range":["#E69F00","#56B4E9","#BEBEBE"]},"legend":null}}}]},
{"width":1,"height":116,"mark":"point"},
{"bounds":"flush","spacing":0,"resolve":{"scale":{"color":"independent","shape":"independent","size":"independent","stroke":"independent"}},"hconcat":[{"width":369,"height":1,"mark":"point"},
{"width":29,"height":15,"title":{"text":"Color Key","fontSize":6.5,"offset":2},"data":{"values":[{"k":[1,5,9,13,17,21,25,29,33,37,41,45,49,53,57,61,65,69,73,77,81,85,89,93,96]}]},"transform":[{"flatten":["k"]}],"mark":{"type":"tick","thickness":1.4,"size":15,"opacity":1,"clip":true},"encoding":{"x":{"field":"k","type":"quantitative","title":"β methylation","scale":{"domain":[1,96]},"axis":{"values":[20,40,60,80],"labelExpr":"datum.value==20?'0.2':datum.value==80?'0.8':''","grid":false,"titleFontSize":6.5,"labelFontSize":5,"tickSize":3,"titlePadding":1}},"color":{"field":"k","type":"quantitative","scale":{"domain":[1,44,96],"range":["#2272b0","#ffffff","#c9641a"],"interpolate":"rgb"},"legend":null}}}]},
{"width":1,"height":18,"mark":"point"},
{"bounds":"flush","spacing":0,"resolve":{"scale":{"color":"independent","shape":"independent","size":"independent","stroke":"independent"}},"hconcat":[{"width":30,"height":1,"mark":"point"},
{"width":37,"height":27,"title":{"text":"Color Key","fontSize":6.5,"offset":2},"data":{"values":[{"k":[9,12,15,18,21,24,27,30,33,36,39,42,45,48,51,54,57,60,63,66,69,72,75,78,81,84,87]}]},"transform":[{"flatten":["k"]}],"mark":{"type":"tick","thickness":1.7,"size":27,"opacity":1,"clip":true},"encoding":{"x":{"field":"k","type":"quantitative","title":"Δβ methylation","scale":{"domain":[9,88]},"axis":{"values":[20,40,60,80],"labelExpr":"datum.value==20?'0.2':datum.value==60?'0.6':''","grid":false,"titleFontSize":7.5,"labelFontSize":6,"tickSize":3,"titlePadding":2}},"color":{"field":"k","type":"quantitative","scale":{"domain":[9,45,88],"range":["#2272b0","#ffffff","#c9641a"],"interpolate":"rgb"},"legend":null}}}]},
{"width":1,"height":31,"mark":"point"},
{"bounds":"flush","spacing":0,"resolve":{"scale":{"color":"independent","shape":"independent","size":"independent","stroke":"independent"}},"hconcat":[{"width":344,"height":1,"mark":"point"},
{"width":58,"height":248,"layer":[{"data":{"values":[{"x":[232,226,220,228,218,224,232,216,225,220,230,218,226,222,229,216,224,232,220,226,218,225,231,222,228,219,224],"y":[187,205,222,240,258,275,293,310,328,345,363,380,398,415,433,450,468,485,503,520,538,555,573,590,608,625,643],"y2":[205,222,240,258,275,293,310,328,345,363,380,398,415,433,450,468,485,503,520,538,555,573,590,608,625,643,660]},{"x":[228,220,230,217,225,220,229,218,226,222,230,219,225,220,228,222],"y":[660,677,695,712,730,747,765,782,800,817,835,852,870,887,905,920],"y2":[677,695,712,730,747,765,782,800,817,835,852,870,887,905,920,930]}]},"transform":[{"flatten":["x","y","y2"]}],"mark":{"type":"rect","color":"#000"},"encoding":{"x":{"field":"x","type":"quantitative","axis":null,"scale":{"domain":[72,245]}},"x2":{"datum":245},"y":{"field":"y","type":"quantitative","axis":null,"scale":{"domain":[187,930],"reverse":true}},"y2":{"field":"y2"}}},
{"data":{"name":"dendE"},"transform":[{"flatten":["x","y"]},{"window":[{"op":"row_number","as":"o"}],"groupby":["m"]}],"mark":{"type":"line","color":"#333","strokeWidth":0.6},"encoding":{"x":{"field":"x","type":"quantitative"},"y":{"field":"y","type":"quantitative"},"detail":{"field":"m"},"order":{"field":"o"}}}]},
{"width":2,"height":1,"mark":"point"},
{"width":7,"height":248,"layer":[{"data":{"values":[{"a":1}]},"mark":{"type":"rect","color":"#F0E442"},"encoding":{}},{"data":{"values":[{"s":["SALS","Control","SALS","SALS","Control","SALS","SALS","SALS","Control","SALS","SALS","SALS","SALS","Control","SALS","Control","SALS","SALS","SALS","SALS","Control","SALS","SALS","Control","SALS","SALS","SALS","Control","SALS","SALS","SALS","Control","SALS","SALS","Control","SALS","SALS","SALS","SALS","Control","SALS","SALS","Control","Control","SALS","SALS","SALS","Control","SALS","SALS","SALS","SALS","Control","SALS","Control","SALS","SALS","SALS","Control","SALS","SALS","SALS","Control","SALS","SALS","Control","SALS","SALS","SALS","SALS","Control","SALS","SALS","SALS","Control","SALS","Control","SALS","SALS","SALS","Control","SALS","SALS","SALS","SALS","Control","SALS","SALS","Control","SALS","SALS","SALS","Control","SALS","Control","SALS","SALS","SALS","SALS","Control","SALS","SALS","Control","SALS","SALS","SALS","Control","SALS","SALS","SALS","Control","Control","SALS","SALS","SALS","Control","SALS","SALS","Control","SALS","SALS","SALS","Control","SALS"]}]},"transform":[{"flatten":["s"]},{"window":[{"op":"row_number","as":"i"}]}],"mark":{"type":"rect","opacity":0.72},"encoding":{"y":{"field":"i","type":"ordinal","axis":null,"scale":{"paddingInner":0,"paddingOuter":0}},"color":{"field":"s","type":"nominal","scale":{"domain":["SALS","Control"],"range":["#009E73","#F0E442"]},"legend":{"orient":"none","legendX":163,"legendY":-26,"title":"Status","direction":"horizontal","titleAnchor":"middle","titleFontSize":6,"titlePadding":3,"labelFontSize":6.5,"symbolType":"square","symbolSize":12,"symbolOpacity":1,"labelOffset":5,"columnPadding":10}}}}]},
{"width":2,"height":1,"mark":"point"},
{"width":243,"height":248,"data":{"name":"e"},"transform":[{"flatten":["v"]},{"window":[{"op":"row_number","as":"c"}],"groupby":["r"]}],"mark":{"type":"rect","strokeWidth":0.6},"encoding":{"x":{"field":"c","type":"ordinal","axis":null,"scale":{"paddingInner":0,"paddingOuter":0}},"y":{"field":"r","type":"ordinal","axis":null,"scale":{"paddingInner":0,"paddingOuter":0}},"color":{"field":"v","type":"quantitative","scale":{"domain":[1,44,96],"range":["#2272b0","#ffffff","#c9641a"],"interpolate":"rgb"},"legend":null},"stroke":{"field":"v","type":"quantitative","scale":{"domain":[1,44,96],"range":["#2272b0","#ffffff","#c9641a"],"interpolate":"rgb"},"legend":null}}}]},
{"width":1,"height":31,"mark":"point"},
{"bounds":"flush","spacing":0,"resolve":{"scale":{"color":"independent","shape":"independent","size":"independent","stroke":"independent"}},"hconcat":[{"width":5,"height":1,"mark":"point"},
{"width":68,"height":215,"data":{"name":"dendB"},"transform":[{"flatten":["x","y"]},{"window":[{"op":"row_number","as":"o"}],"groupby":["m"]}],"mark":{"type":"line","color":"#333","strokeWidth":0.7},"encoding":{"x":{"field":"x","type":"quantitative","axis":null,"scale":{"domain":[15,219]}},"y":{"field":"y","type":"quantitative","axis":null,"scale":{"domain":[-0.5,33.5],"reverse":true}},"detail":{"field":"m"},"order":{"field":"o"}}},
{"width":1,"height":1,"mark":"point"},
{"width":15,"height":215,"data":{"name":"b"},"encoding":{"y":{"field":"r","type":"ordinal","axis":null,"scale":{"paddingInner":0,"paddingOuter":0}}},"resolve":{"scale":{"color":"independent"}},"layer":[
{"mark":"rect","encoding":{"x":{"datum":"Disease","type":"nominal","title":null,"scale":{"domain":["Disease","Twin set"],"paddingInner":0,"paddingOuter":0},"axis":{"labelAngle":-90,"ticks":false,"grid":false,"labelPadding":3}},"color":{"field":"d","type":"nominal","scale":{"domain":["ALS","Unaffected"],"range":["#009E73","#F0E442"]},"legend":{"orient":"none","legendX":202,"legendY":-38,"title":"Status","titleAnchor":"middle","titleFontSize":6,"titlePadding":3,"labelFontSize":6,"symbolType":"square","symbolSize":9,"rowPadding":0,"clipHeight":6.5,"labelOffset":5}}}},
{"mark":"rect","encoding":{"x":{"datum":"Twin set","type":"nominal"},"color":{"field":"t","type":"nominal","scale":{"domain":["SOD1 triplets","Female SALS twins","Male SALS twins","C9orf72 twins","Control twins"],"range":["#56B4E9","#0072B2","#D55E00","#E69F00","#CC79A7"]},"legend":{"orient":"none","legendX":46,"legendY":-38,"title":"Twin set","titleAnchor":"middle","titleFontSize":6,"titlePadding":3,"labelFontSize":6,"symbolType":"square","symbolSize":9,"rowPadding":0,"clipHeight":6.5,"labelOffset":5,"columns":2,"direction":"vertical","columnPadding":6}}}}]},
{"width":3,"height":1,"mark":"point"},
{"width":188,"height":215,"data":{"name":"b"},"transform":[{"flatten":["v"]},{"window":[{"op":"row_number","as":"c"}],"groupby":["r"]}],"mark":{"type":"rect","strokeWidth":0.6},"encoding":{"x":{"field":"c","type":"ordinal","axis":null,"scale":{"paddingInner":0,"paddingOuter":0}},"y":{"field":"r","type":"ordinal","axis":null,"scale":{"paddingInner":0,"paddingOuter":0}},"color":{"field":"v","type":"quantitative","scale":{"domain":[9,45,88],"range":["#2272b0","#ffffff","#c9641a"],"interpolate":"rgb"},"legend":null},"stroke":{"field":"v","type":"quantitative","scale":{"domain":[9,45,88],"range":["#2272b0","#ffffff","#c9641a"],"interpolate":"rgb"},"legend":null}}},
{"width":3,"height":1,"mark":"point"},
{"width":37,"height":215,"data":{"name":"b"},"mark":{"type":"text","align":"left","fontSize":4.6,"color":"#222"},"encoding":{"x":{"value":0},"y":{"field":"r","type":"ordinal","axis":null},"text":{"field":"l"}}}]},
{"width":1,"height":275,"mark":"point"},
{"bounds":"flush","spacing":0,"resolve":{"scale":{"color":"independent","shape":"independent","size":"independent","stroke":"independent"}},"hconcat":[{"width":37,"height":1,"mark":"point"},
{"width":278,"height":214,"view":{"stroke":"#a8a8a8"},"data":{"name":"c"},"mark":{"type":"point","filled":true,"opacity":0.75},"encoding":{"x":{"field":"x","type":"quantitative","title":"PC1","scale":{"domain":[-10.74,12.96],"nice":false},"axis":{"values":[-10,-7.5,-5,-2.5,0,2.5,5,7.5,10,12.5],"labelAngle":-45,"titlePadding":-2,"labelExpr":"abs(datum.value)%5==0?datum.label:''","tickOpacity":{"condition":{"test":"abs(datum.value)%5==0","value":1},"value":0}}},"y":{"field":"y","type":"quantitative","title":"PC2","scale":{"domain":[-4.13,6.56],"nice":false},"axis":{"values":[-4,-3,-2,-1,0,1,2,3,4,5,6],"titlePadding":3,"labelExpr":"abs(datum.value)%2==0?datum.label:''","tickOpacity":{"condition":{"test":"abs(datum.value)%2==0","value":1},"value":0}}},"shape":{"field":"s","type":"nominal","scale":{"domain":["ALS","Unaffected"],"range":["circle","triangle-up"]},"legend":{"orient":"none","legendX":2,"legendY":-21,"title":null,"direction":"horizontal","labelFontSize":5.6,"labelColor":"#222","symbolFillColor":"#333","symbolStrokeColor":"#333","columnPadding":1,"labelOffset":1}},"size":{"field":"s","type":"nominal","scale":{"domain":["ALS","Unaffected"],"range":[36,75]},"legend":{"orient":"none","legendX":2,"legendY":-21,"title":null,"direction":"horizontal","labelFontSize":5.6,"labelColor":"#222","symbolFillColor":"#333","symbolStrokeColor":"#333","columnPadding":1,"labelOffset":1}},"color":{"field":"t","type":"nominal","scale":{"domain":["C9orf72 twins","Control twins","Female SALS","Male SALS","SOD1 triplets"],"range":["#E69F00","#CC79A7","#0072B2","#D55E00","#56B4E9"]},"legend":{"orient":"none","legendX":72,"legendY":-21,"title":null,"direction":"horizontal","labelFontSize":5.6,"labelColor":"#222","symbolType":"circle","symbolSize":50,"columnPadding":1,"labelOffset":1}}}},
{"width":58,"height":1,"mark":"point"},
{"width":276,"height":213,"view":{"stroke":"#a8a8a8"},"data":{"values":[
{"s":"SALS","x":[-14.85,-9.6,-10.1,-7.3,-9.8,-8.4,-9.85,-8.1,-8.5,-8,-4.55,-0.47,-5.9,-5.1,-6.8,-3.8,-1.4,-0.93,-6.25,-5.6,-6.05,-6.65,-6.4,-7.05,-5.9,-7,-5.1,-4.55,-2.5,-2.25,-1.75,5.45,4.65,3.8,3.55,3.75,2.5,0.6,-4.65,-3.4,-4.8,-4.2,-3.9,-3.5,-3.2,-4.4,-3.7,-3.0,-2.7,-4.0,-4.6,-4.2,-3.8,-3.4,-3.0,-4.4,-3.6,-3.2,-2.8,-4.9],"y":[-5.2,-6.45,-4.7,-5.3,-2.8,-2.55,0.7,0.9,2.5,2.5,6.87,7.4,4.67,4.4,4,6.1,6.15,6.27,2.4,2.66,1.1,0.1,-0.25,-1.43,-1.5,-3.84,-2.75,-4.7,-5.1,-5,-4.55,-3,-2,-2.9,4.67,3.8,4.8,5.6,2.5,2,3.5,4.9,3.8,5.5,4.3,2.9,3.0,4.8,3.4,2.2,-0.7,-1.3,-2.6,-3.2,-1.9,-2.4,-0.4,-3.7,-3.5,-0.9]},
{"s":"Control","x":[-23.8,-2.9,-12,-10.45,-9.9,-9.4,-11,-8.75,-8.3,-7.2,-6.3,-7,-6.85,-6.4,-7.7,-7.15,-6.2,-5.6,-6.4,-5,-3.8,-3.5,-3.2,-1.05,-0.5,3.4,5.2,4.8,4.55,4.3,2.9,1.35,-3.1,-3.3,-2.4,-3.3,-5.2,-4.5,-3.9,-4.1,-5,-4.1],"y":[-9,-9.36,2,0.09,-0.9,-1.1,-1.57,-1.37,3.9,3.8,6.67,2.5,1.8,1.95,-1.9,-0.63,-0.63,-0.9,-3.43,-3.7,-4.3,-4.5,-4.55,-5.4,-5.64,-4.2,-0.1,-1.83,3.15,2.6,6.35,6.2,6.5,6.2,5.9,5.1,3.5,1.4,0.6,0.5,-1.8,-2.3]},
{"s":"SALS","x":[-2.8,-2.1,-1.5,-0.9,-0.3,0.4,1.0,1.6,2.2,2.9,-2.5,-1.8,-1.2,-0.6,0.1,0.7,1.3,1.9,2.6,3.2,-3.1,-2.3,-1.6,-1.0,-0.4,0.3,0.9,1.5,2.1,2.8,-2.0,-1.4,-0.8,-0.2,0.5,1.1,1.7,2.4,3.0,3.6,-1.7,-1.1,-0.5,0.2,0.8,1.4,2.0,2.7,3.3,3.9,-2.6,-1.9,-1.3,-0.7,0.0,0.6,1.2,1.8,2.5,3.1,-1.5,-0.9,-0.3,0.4,1.0,1.6,2.2,2.9,3.5,4.0,-2.2,-1.6,-1.0,-0.4,0.3,0.9,1.5,2.1,2.8,3.4],"y":[1.2,-2.8,3.6,-1.4,0.6,-3.1,2.2,-0.5,1.4,-2.2,-1.0,2.6,-3.4,1.8,-0.2,4.1,-2.5,0.9,-1.6,0.3,-2.0,0.5,-0.7,3.1,-3.6,1.5,-1.1,3.4,-2.9,1.0,-3.0,1.3,4.4,-2.1,2.7,-0.8,-3.3,0.2,-1.3,1.9,2.9,-1.8,0.1,-2.7,1.1,3.9,-1.5,2.1,-0.4,-0.9,3.3,-1.2,0.8,-3.7,2.4,-0.6,0.4,-2.3,3.0,1.6,4.8,2.3,-1.9,3.7,-3.2,1.7,0.0,-2.6,0.7,-1.0,-3.5,-0.3,1.9,4.6,-0.1,-2.4,2.8,4.0,-3.0,2.2]},
{"s":"Control","x":[-3.0,-2.4,-1.7,-1.1,-0.5,0.2,0.8,1.4,2.1,2.8,3.5,-2.7,-2.0,-1.4,-0.8,-0.1,0.6,1.2,1.9,2.5,3.2,3.9,-2.2,-1.6,-0.9,-0.2,0.5,1.1,1.8,2.4,3.1,3.7,-1.8,-1.2,-0.6,0.1,0.7,1.3,2.0,2.6,-2.9,-2.3,-1.5,-1.0,-0.3,0.4,1.0,1.7,2.3,3.0,3.6,4.1,-2.6,-1.9,-1.3,-0.7,0.0,0.9,1.5,2.2,2.9,3.4,-2.1,-1.0,0.3,1.6,2.7,-1.4,0.6,3.8],"y":[-2.4,-0.9,1.1,-3.0,2.7,-1.6,0.4,3.1,-2.7,0.9,-1.4,-3.2,-1.7,0.6,3.5,-0.9,-3.5,1.9,-0.3,2.4,-2.0,0.2,0.0,-2.6,1.7,4.3,-1.2,-0.1,2.9,-1.9,1.2,-0.7,2.1,-1.0,-3.3,1.0,3.7,-2.3,0.7,-0.8,-1.1,1.5,-3.6,0.3,-1.8,2.5,-0.5,-3.1,3.4,-2.9,0.5,-1.3,-2.1,3.0,-0.2,4.1,-2.5,1.3,0.1,2.2,-0.4,0.8,-1.5,4.7,5.2,-1.1,0.0,2.8,-3.0,1.1]},
{"s":"SALS","x":[-1.2,-0.4,0.5,1.2,2.0,2.7,3.5,-2.0,-0.9,0.2,1.0,1.8,2.5,3.3,-1.6,-0.7,0.3,1.1,1.9,2.6,3.7,-1.3,-0.2,0.6,1.4,2.3,3.0,-2.4,-1.0,0.0,0.8,1.6,2.4,3.2,-1.9,-0.6,0.7,1.5,2.2,3.8,-0.1,0.7,1.3,2.1,2.9,-1.5,-0.5,0.4,1.2,2.0,3.0,3.6,-0.8,0.1,0.9,1.7,2.4,3.1,-1.8,-1.1,-0.3,0.5,1.4,2.2,2.8,3.5,-0.6,0.2,1.0,1.9],"y":[0.3,2.9,-1.7,1.2,-0.3,2.0,-2.4,-1.3,-0.6,3.5,-2.8,2.6,-1.1,1.4,1.7,-3.0,0.9,-0.4,3.2,-3.4,0.4,-2.2,1.0,-1.2,4.4,0.6,-1.7,2.1,4.2,-1.6,2.3,-2.0,1.6,-0.2,-0.1,1.4,5.0,-3.2,2.5,-1.9,1.8,0.1,-2.3,2.7,-0.7,0.6,-2.6,-0.8,3.0,-1.2,1.8,0.9,2.0,-3.1,0.6,-0.9,2.3,-2.1,-2.4,1.0,-0.9,2.0,-1.4,0.9,-0.2,-1.1,-1.9,0.4,3.7,1.2]},
{"s":"Control","x":[-1.9,-1.2,-0.4,0.3,1.0,1.7,2.4,3.1,-2.3,-1.5,-0.7,0.1,0.9,1.5,2.2,2.9,3.6,-1.1,-0.2,0.7,1.3,2.0,2.7,3.3,-1.7,-0.9,0.0,0.8,1.6,2.5,3.0,3.7,-2.5,-0.6,0.4,1.2,1.9,2.6,3.4,4.0,-0.3,0.5,1.5,2.3,3.2,-1.6,-0.8,0.2,1.1,1.8,2.8,3.5,-2.0,-1.0,0.6,1.4,2.1,3.0,-0.1,1.0],"y":[0.8,-1.6,2.2,-2.9,0.2,-0.9,1.5,-1.8,-2.8,1.9,-0.4,3.3,-2.2,1.1,-1.3,0.1,1.4,-3.2,0.6,-1.0,2.6,-2.3,1.7,-0.6,3.8,0.4,-1.4,1.8,-0.7,0.9,-2.5,-1.6,0.3,2.9,-3.4,3.6,1.1,-1.2,0.3,-0.4,-1.6,1.3,-2.6,0.4,-1.2,-0.3,1.2,-0.6,2.2,-1.9,0.5,2.0,-1.9,-2.3,-0.8,0.5,-0.2,1.0,2.4,-3.0]}]},"transform":[{"flatten":["x","y"]}],"mark":{"type":"point","filled":true,"opacity":0.72},"encoding":{"x":{"field":"x","type":"quantitative","title":"PC1","scale":{"domain":[-25.24,6.91],"nice":false},"axis":{"values":[-25,-20,-15,-10,-5,0,5],"labelAngle":-45,"titlePadding":-2,"labelExpr":"abs(datum.value)%10==0?datum.label:''","tickOpacity":{"condition":{"test":"abs(datum.value)%10==0","value":1},"value":0}}},"y":{"field":"y","type":"quantitative","title":"PC2","scale":{"domain":[-10.16,8.16],"nice":false},"axis":{"values":[-10,-7.5,-5,-2.5,0,2.5,5,7.5],"titlePadding":3,"labelExpr":"abs(datum.value)%5==0?datum.label:''","tickOpacity":{"condition":{"test":"abs(datum.value)%5==0","value":1},"value":0}}},"shape":{"field":"s","type":"nominal","scale":{"domain":["Control","SALS"],"range":["circle","triangle-up"]},"legend":{"orient":"none","legendX":97,"legendY":-20,"title":"Status","titleFontSize":6.5,"titleOrient":"left","direction":"horizontal","labelFontSize":5,"symbolSize":24,"columnPadding":4,"labelOffset":3}},"color":{"field":"s","type":"nominal","scale":{"domain":["Control","SALS"],"range":["#F0E442","#009E73"]},"legend":{"orient":"none","legendX":97,"legendY":-20,"title":"Status","titleFontSize":6.5,"titleOrient":"left","direction":"horizontal","labelFontSize":5,"symbolSize":24,"columnPadding":4,"labelOffset":3}},"size":{"field":"s","type":"nominal","scale":{"domain":["Control","SALS"],"range":[28,38]},"legend":null}}}]}
]}
